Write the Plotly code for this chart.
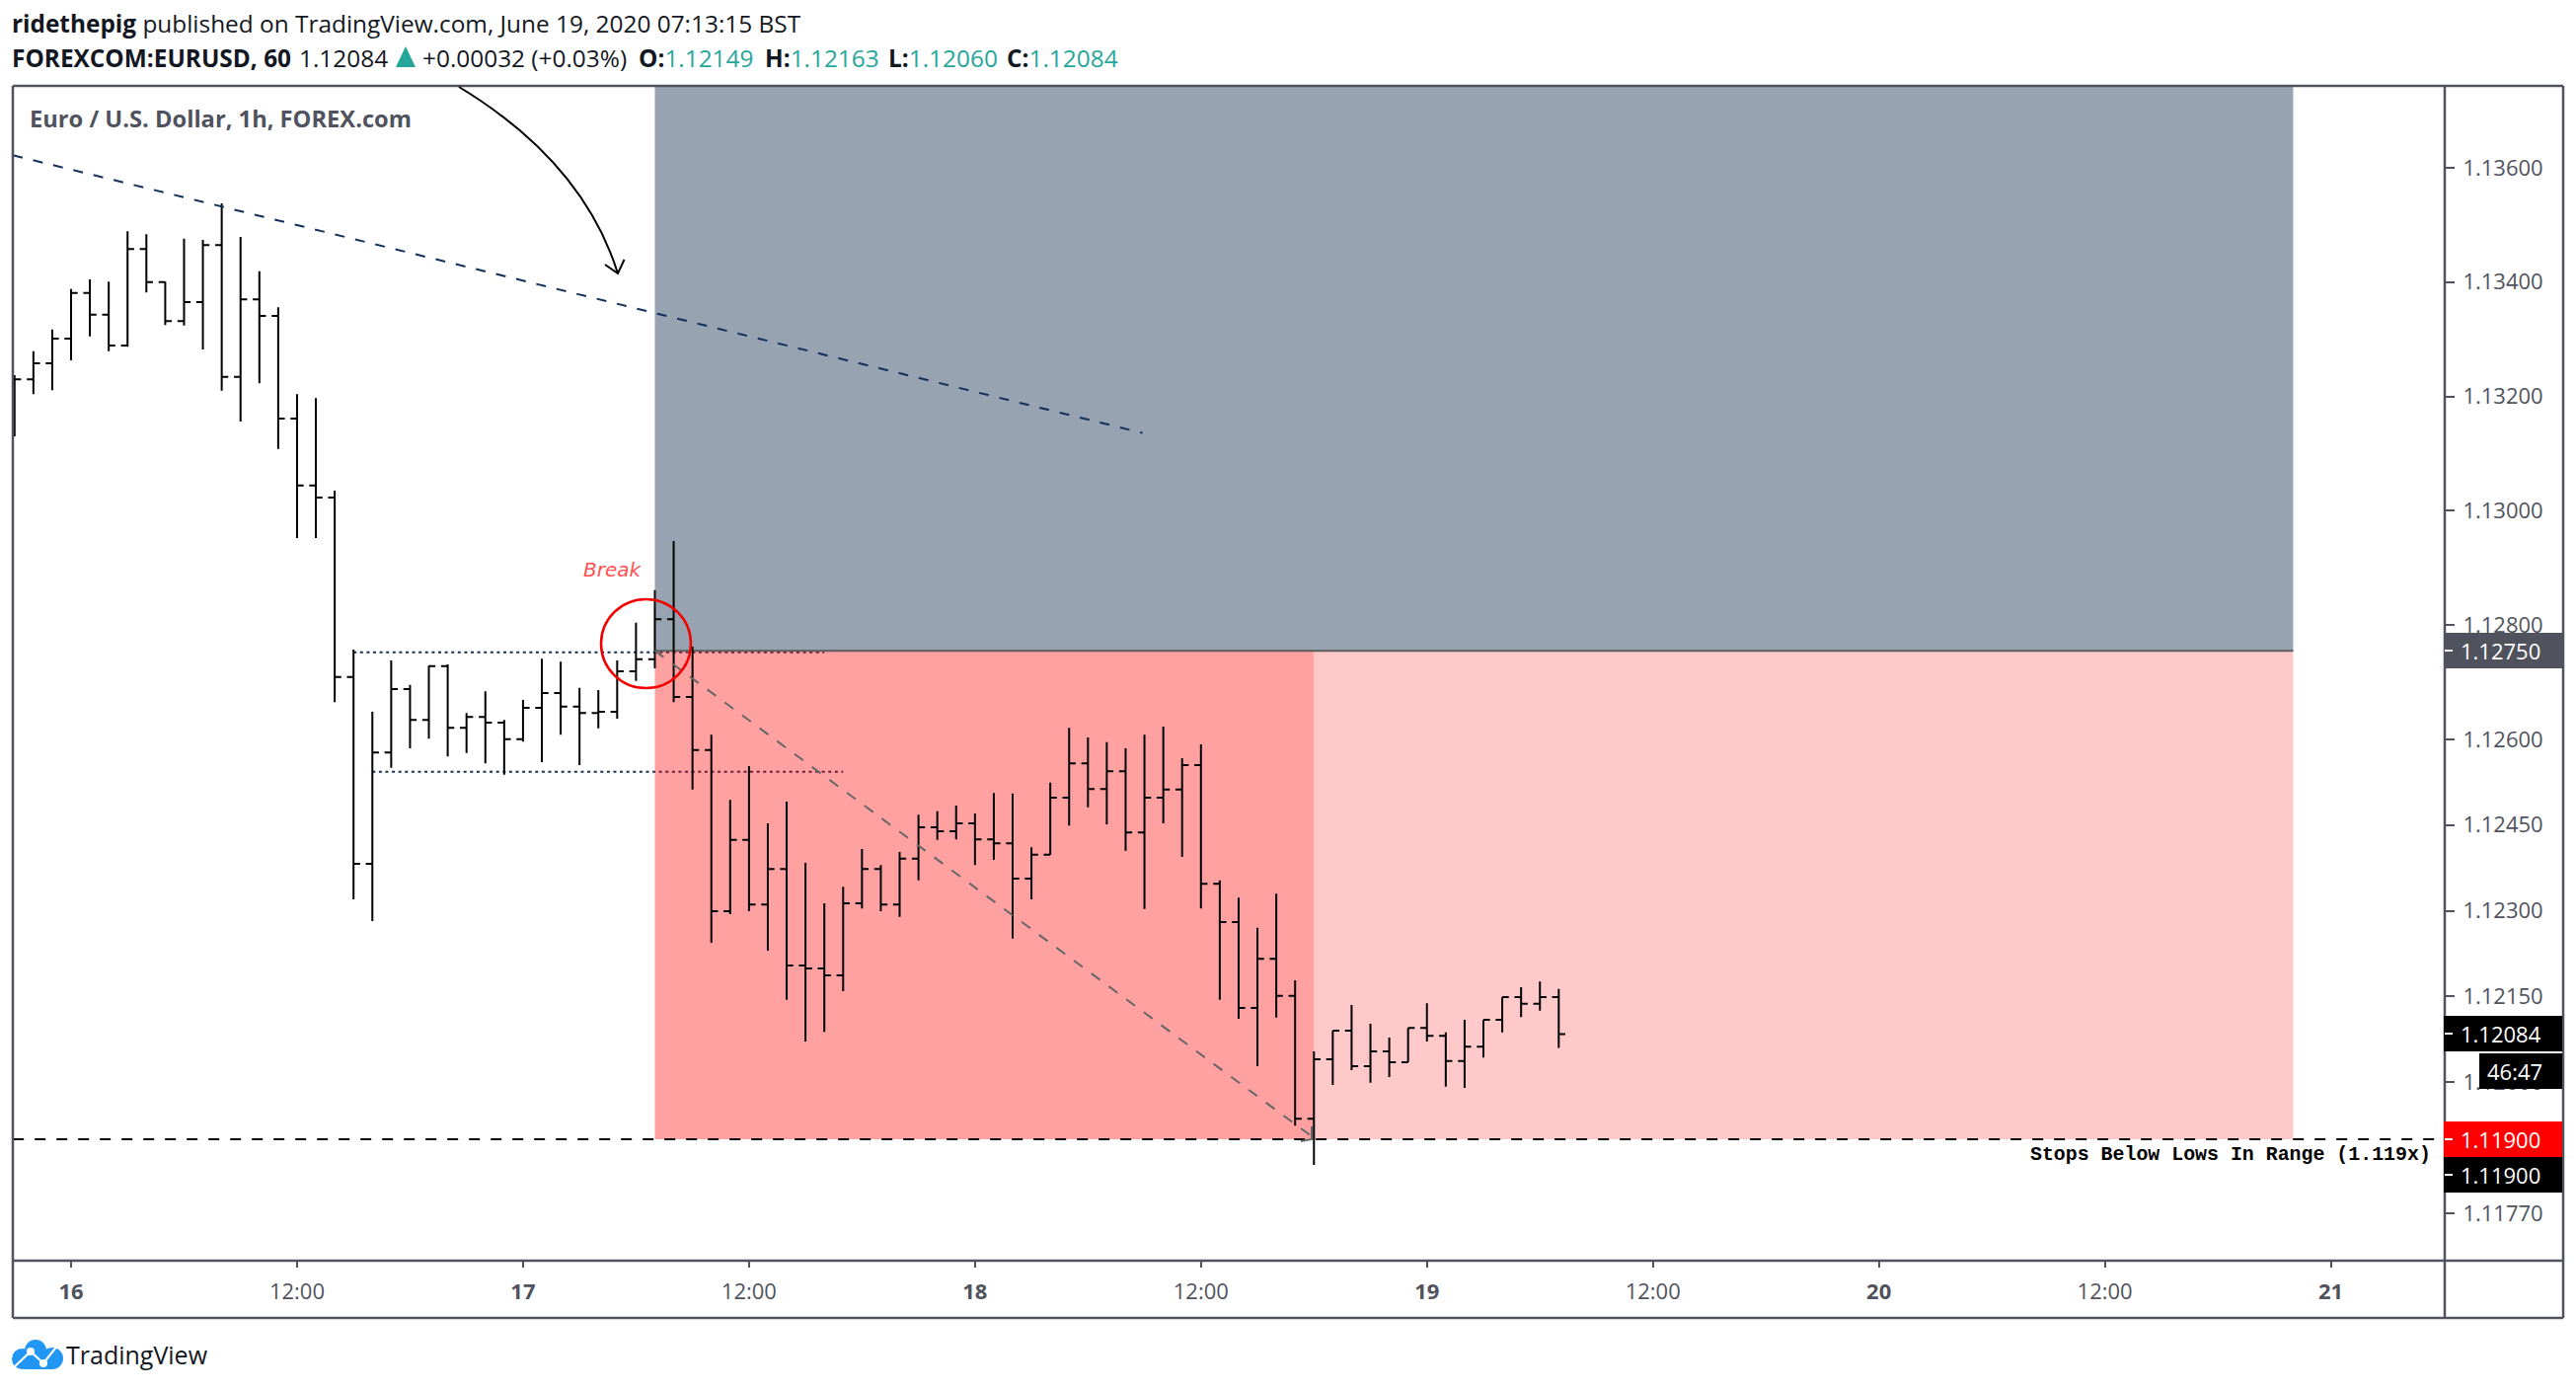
import pandas as pd
import plotly.graph_objects as go

W, H = 2610, 1408
L, R, T, B = 13, 2477, 87, 1277

# ---------- data ----------
bar_times = pd.date_range("2020-06-15 21:00", periods=83, freq="h").strftime("%Y-%m-%d %H:%M").tolist()
opens = [1.13225,1.13230,1.13258,1.13301,1.13381,1.13343,1.13289,1.13458,1.13400,1.13332,1.13365,1.13465,1.13234,1.13370,1.13341,1.13161,
1.13044,1.13023,1.12709,1.12382,1.12577,1.12688,1.12634,1.12728,1.12620,1.12639,1.12629,1.12600,1.12655,1.12681,1.12657,1.12646,
1.12648,1.12719,1.12740,1.12810,1.12674,1.12581,1.12299,1.12424,1.12311,1.12373,1.12204,1.12199,1.12187,1.12313,1.12373,1.12311,
1.12391,1.12446,1.12439,1.12453,1.12425,1.12418,1.12356,1.12398,1.12498,1.12558,1.12513,1.12544,1.12437,1.12498,1.12512,1.12555,
1.12347,1.12280,1.12130,1.12216,1.12151,1.11936,1.12040,1.12090,1.12028,1.12054,1.12035,1.12095,1.12081,1.12037,1.12062,1.12109,
1.12149,1.12137,1.12149]
highs = [1.13237,1.13279,1.13317,1.13388,1.13405,1.13401,1.13489,1.13484,1.13401,1.13476,1.13474,1.13538,1.13479,1.13419,1.13356,1.13204,
1.13197,1.13035,1.12757,1.12648,1.12738,1.12695,1.12729,1.12731,1.12646,1.12684,1.12634,1.12669,1.12741,1.12736,1.12690,1.12686,
1.12738,1.12804,1.12861,1.12947,1.12762,1.12608,1.12494,1.12553,1.12453,1.12491,1.12384,1.12313,1.12342,1.12408,1.12380,1.12403,
1.12468,1.12474,1.12484,1.12470,1.12506,1.12505,1.12411,1.12524,1.12620,1.12603,1.12595,1.12584,1.12608,1.12622,1.12567,1.12591,
1.12353,1.12323,1.12270,1.12330,1.12178,1.12054,1.12090,1.12135,1.12102,1.12078,1.12095,1.12138,1.12087,1.12109,1.12109,1.12149,
1.12166,1.12176,1.12163]
lows = [1.13130,1.13204,1.13211,1.13263,1.13305,1.13279,1.13287,1.13382,1.13325,1.13324,1.13282,1.13210,1.13156,1.13223,1.13108,1.12952,
1.12952,1.12665,1.12320,1.12282,1.12550,1.12584,1.12601,1.12570,1.12576,1.12558,1.12538,1.12596,1.12560,1.12608,1.12555,1.12619,
1.12636,1.12702,1.12724,1.12665,1.12512,1.12244,1.12294,1.12299,1.12230,1.12144,1.12071,1.12088,1.12159,1.12304,1.12299,1.12289,
1.12353,1.12424,1.12425,1.12380,1.12389,1.12251,1.12320,1.12398,1.12449,1.12481,1.12451,1.12405,1.12303,1.12453,1.12394,1.12304,
1.12144,1.12111,1.12028,1.12113,1.11924,1.11855,1.11995,1.12021,1.11999,1.12009,1.12035,1.12071,1.11992,1.11990,1.12043,1.12087,
1.12114,1.12125,1.12060]
closes = [1.13230,1.13258,1.13301,1.13381,1.13343,1.13289,1.13458,1.13400,1.13332,1.13365,1.13465,1.13234,1.13370,1.13341,1.13161,1.13044,
1.13023,1.12709,1.12382,1.12577,1.12688,1.12634,1.12728,1.12620,1.12639,1.12629,1.12600,1.12655,1.12681,1.12657,1.12646,1.12648,
1.12719,1.12740,1.12810,1.12674,1.12581,1.12299,1.12424,1.12311,1.12373,1.12204,1.12199,1.12187,1.12313,1.12373,1.12311,1.12391,
1.12446,1.12439,1.12453,1.12425,1.12418,1.12356,1.12398,1.12498,1.12558,1.12513,1.12544,1.12437,1.12498,1.12512,1.12555,1.12347,
1.12280,1.12130,1.12216,1.12151,1.11936,1.12040,1.12090,1.12028,1.12054,1.12035,1.12095,1.12081,1.12037,1.12062,1.12109,1.12149,
1.12137,1.12149,1.12084]

price_ticks = [1.136,1.134,1.132,1.130,1.128,1.126,1.1245,1.123,1.1215,1.120,1.1177]
price_labels = ["1.13600","1.13400","1.13200","1.13000","1.12800","1.12600","1.12450","1.12300","1.12150","1.12000","1.11770"]
time_ticks = ["2020-06-16 00:00","2020-06-16 12:00","2020-06-17 00:00","2020-06-17 12:00","2020-06-18 00:00","2020-06-18 12:00",
              "2020-06-19 00:00","2020-06-19 12:00","2020-06-20 00:00","2020-06-20 12:00","2020-06-21 00:00"]
time_labels = ["<b>16</b>","12:00","<b>17</b>","12:00","<b>18</b>","12:00","<b>19</b>","12:00","<b>20</b>","12:00","<b>21</b>"]

entry_price = 1.12755
stop_price = 1.11900
zone_start = "2020-06-17 07:00"
zone_mid = "2020-06-18 18:00"
zone_end = "2020-06-20 22:00"
trend_x = ["2020-06-15 20:55", "2020-06-18 08:54"]
trend_y = [1.13622, 1.13136]
target_x = [zone_start, "2020-06-18 17:53"]
target_y = [entry_price, 1.11905]
stop_x = ["2020-06-15 20:55", "2020-06-21 06:03"]
stop_y = [stop_price, stop_price]
range_top = ("2020-06-16 15:00", "2020-06-17 16:00", 1.12752)
range_bot = ("2020-06-16 16:00", "2020-06-17 17:00", 1.12543)

# ---------- pixel helpers for chart furniture ----------
GREY = "#50535E"
def fx(px): return (px - L) / (R - L)
def fy(py): return 1 - (py - T) / (B - T)
def P(cmd):
    out = []
    for item in cmd:
        if isinstance(item, str):
            out.append(item)
        else:
            out.append(f"{fx(item[0]):.5f},{fy(item[1]):.5f}")
    return " ".join(out)

shapes = []
def paper_rect(x0, y0, x1, y1, fill, layer="above"):
    shapes.append(dict(type="rect", xref="paper", yref="paper", x0=fx(x0), x1=fx(x1), y0=fy(y0), y1=fy(y1),
                       fillcolor=fill, line_width=0, layer=layer))
def paper_line(x0, y0, x1, y1, color=GREY, width=2.5, layer="above"):
    shapes.append(dict(type="line", xref="paper", yref="paper", x0=fx(x0), x1=fx(x1), y0=fy(y0), y1=fy(y1),
                       line=dict(color=color, width=width), layer=layer))
def paper_path(cmd, color="black", width=2, fill=None):
    d = dict(type="path", xref="paper", yref="paper", path=P(cmd), line=dict(color=color, width=width), layer="above")
    if fill: d["fillcolor"] = fill
    shapes.append(d)
def paper_circle(x0, y0, x1, y1, line=None, width=0, fill=None):
    d = dict(type="circle", xref="paper", yref="paper", x0=fx(x0), x1=fx(x1), y0=fy(y0), y1=fy(y1), layer="above",
             line=dict(color=line or "rgba(0,0,0,0)", width=width))
    if fill: d["fillcolor"] = fill
    shapes.append(d)

# dotted range lines sit under the translucent zones
for x0, x1, y in (range_top, range_bot):
    shapes.append(dict(type="line", xref="x", yref="y", x0=x0, x1=x1, y0=y, y1=y, layer="below",
                       line=dict(color="#12305A", width=2, dash="3px,3.6px")))
# zones
def zone(x0, x1, y0, y1, fill):
    shapes.append(dict(type="rect", xref="x", yref="y", x0=x0, x1=x1, y0=y0, y1=y1, fillcolor=fill, line_width=0, layer="below"))
zone(zone_start, zone_end, entry_price, 1.14, "#97A3B1")
zone(zone_start, zone_mid, stop_price, entry_price, "rgba(255,0,0,0.37)")
zone(zone_mid, zone_end, stop_price, entry_price, "rgba(255,0,0,0.21)")
shapes.append(dict(type="line", xref="x", yref="y", x0=zone_start, x1=zone_end, y0=entry_price, y1=entry_price, layer="below",
                   line=dict(color="#5D5D5D", width=2)))

# frame
paper_line(L, T, 2597, T); paper_line(L, T, L, 1335); paper_line(2597, T, 2597, 1335)
paper_line(L, 1335, 2597, 1335); paper_line(L, B, 2597, B); paper_line(R, T, R, 1335)

# curved arrow
paper_path(["M", (465, 88), "Q", (590.5, 164), (626, 277)], width=2)
paper_path(["M", (613, 268), "L", (626, 277), "L", (632.5, 263)], width=2)
# head of the diagonal
paper_path(["M", (1318, 1156), "L", (1329, 1154), "L", (1329, 1141)], color="#666666", width=2)
# break circle
paper_circle(609, 607, 700, 697, line="#F20000", width=2.5)

# header triangle
TEAL = "#26A69A"
paper_path(["M", (401, 68), "L", (411, 47), "L", (421, 68), "Z"], color=TEAL, width=0, fill=TEAL)

# price labels
def box(y0, y1, fill, tick=None, x0=2476, x1=2596):
    paper_rect(x0, y0, x1, y1, fill)
    if tick: paper_line(R, tick, R + 8, tick, color="white", width=2)
box(641, 677, "#50535E", 659)
box(1029, 1065, "#000000", 1047)
box(1067, 1103, "#000000", None, x0=2512)
box(1136, 1172, "#FF0000", 1154)
box(1172, 1208, "#000000", 1190)

# logo
paper_circle(12, 1366, 33, 1387, fill="#2196F3")
paper_circle(25, 1357, 47, 1379, fill="#2196F3")
paper_circle(42, 1365, 64, 1387, fill="#2196F3")
paper_rect(24, 1374, 54, 1387, "#2196F3")
paper_path(["M", (13, 1386), "L", (31, 1369), "L", (44, 1381), "L", (59, 1362)], color="white", width=2.2)
paper_circle(27, 1365, 35, 1373, fill="white")
paper_circle(40, 1377, 48, 1385, fill="white")

# ---------- text ----------
HEAD = "Open Sans"
def note(x, y, text, size=22, color=GREY, family=HEAD, anchor="left", **kw):
    return dict(xref="paper", yref="paper", x=fx(x), y=fy(y), text=text, showarrow=False, xanchor=anchor, yanchor="middle",
                font=dict(family=family, size=size, color=color), **kw)

DARK = "#131722"
annotations = [
    note(10, 24, "<b>ridethepig</b> published on TradingView.com, June 19, 2020 07:13:15 BST", size=24.4, color=DARK),
    note(10, 58, "<b>FOREXCOM:EURUSD, 60</b>", size=24.4, color=DARK),
    note(301, 58, "1.12084", size=24.4, color=DARK),
    note(426, 58, "+0.00032 (+0.03%)", size=24.4, color=DARK),
    note(645, 58, f"<b>O:</b><span style='color:{TEAL}'>1.12149</span>", size=24.4, color=DARK),
    note(773, 58, f"<b>H:</b><span style='color:{TEAL}'>1.12163</span>", size=24.4, color=DARK),
    note(898, 58, f"<b>L:</b><span style='color:{TEAL}'>1.12060</span>", size=24.4, color=DARK),
    note(1018, 58, f"<b>C:</b><span style='color:{TEAL}'>1.12084</span>", size=24.4, color=DARK),
    note(28, 120, "<b>Euro / U.S. Dollar, 1h, FOREX.com</b>", size=23.7),
    note(589, 577, "<i>Break</i>", size=20, color="#FF5252", family="DejaVu Sans"),
    note(2055, 1169, "<b>Stops Below Lows In Range (1.119x)</b>", size=19.9, color="black", family="Liberation Mono"),
    note(2491, 659, "1.12750", color="white"),
    note(2491, 1047, "1.12084", color="white"),
    note(2518, 1085, "46:47", color="white"),
    note(2491, 1154, "1.11900", color="white"),
    note(2491, 1190, "1.11900", color="white"),
    note(65, 1372, "TradingView", size=25, color=DARK),
]

# ---------- figure ----------
fig = go.Figure()
fig.add_trace(go.Ohlc(x=bar_times, open=opens, high=highs, low=lows, close=closes, tickwidth=0.35,
                      increasing=dict(line=dict(color="black", width=2)),
                      decreasing=dict(line=dict(color="black", width=2)),
                      showlegend=False, hoverinfo="skip"))
fig.add_trace(go.Scatter(x=trend_x, y=trend_y, mode="lines", hoverinfo="skip", showlegend=False,
                         line=dict(color="#12305A", width=2, dash="10px,11px")))
fig.add_trace(go.Scatter(x=target_x, y=target_y, mode="lines", hoverinfo="skip", showlegend=False,
                         line=dict(color="#666666", width=2, dash="11px,11px")))
fig.add_trace(go.Scatter(x=stop_x, y=stop_y, mode="lines", hoverinfo="skip", showlegend=False,
                         line=dict(color="black", width=2, dash="11px,11px")))

hour = 1 / 19.08
x0 = pd.Timestamp("2020-06-16") + pd.Timedelta(hours=(L - 72) * hour)
x1 = pd.Timestamp("2020-06-16") + pd.Timedelta(hours=(R - 72) * hour)
ymax = 1.136 + (170 - T) / 57885
ymin = 1.136 - (B - 170) / 57885

fig.update_layout(
    width=W, height=H, autosize=False, showlegend=False,
    margin=dict(l=L, r=W - R, t=T, b=H - B, pad=0, autoexpand=False),
    paper_bgcolor="white", plot_bgcolor="white",
    font=dict(family=HEAD, size=22, color=GREY),
    shapes=shapes, annotations=annotations,
    xaxis=dict(type="date", range=[x0, x1], rangeslider=dict(visible=False), showgrid=False, zeroline=False,
               tickmode="array", tickvals=time_ticks, ticktext=time_labels, ticks="outside", ticklen=6, tickwidth=2,
               tickcolor=GREY, ticklabelstandoff=6, showline=False, tickfont=dict(size=22, color=GREY, family=HEAD)),
    yaxis=dict(range=[ymin, ymax], side="right", showgrid=False, zeroline=False, tickmode="array",
               tickvals=price_ticks, ticktext=price_labels, ticks="outside", ticklen=9, tickwidth=2, tickcolor=GREY,
               ticklabelstandoff=4, showline=False, tickfont=dict(size=22, color=GREY, family=HEAD)),
)
fig.write_html("out.html", config=dict(displayModeBar=False, responsive=False),
               post_script="document.body.style.margin='0';")
